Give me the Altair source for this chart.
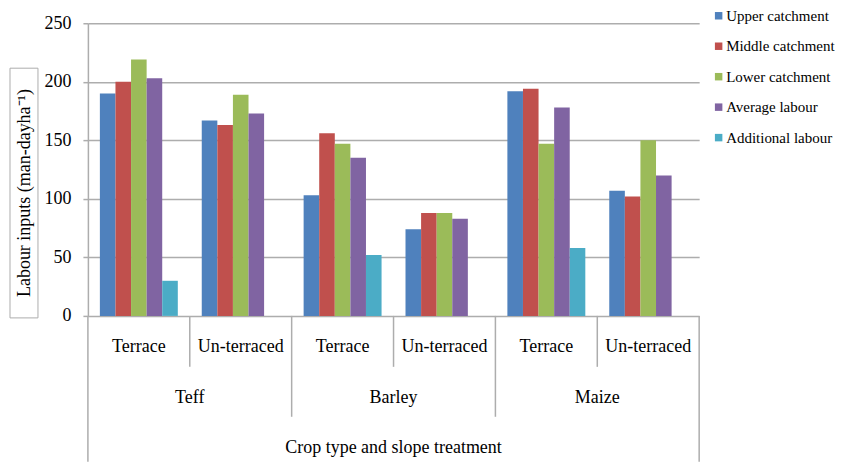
import altair as alt
import pandas as pd

crops = ["Teff", "Barley", "Maize"]
slopes = ["Terrace", "Un-terraced"]
series = ["Upper catchment", "Middle catchment", "Lower catchment",
          "Average labour", "Additional labour"]
# values per group: Teff-T, Teff-U, Barley-T, Barley-U, Maize-T, Maize-U
upper = [190, 167, 103, 74, 192, 107]
middle = [200, 163, 156, 88, 194, 102]
lower = [219, 189, 147, 88, 147, 150]
average = [203, 173, 135, 83, 178, 120]
additional = [30, None, 52, None, 58, None]
colors = ["#4F81BD", "#C0504D", "#9BBB59", "#8064A2", "#4BACC6"]
y_ticks = [0, 50, 100, 150, 200, 250]
y_title = "Labour inputs (man-dayha⁻¹)"
x_title = "Crop type and slope treatment"

FONT = "Liberation Serif"
GRID = "#ADADAD"
W, H = 612, 293

groups = [(c, s) for c in crops for s in slopes]
keys = [f"{c} | {s}" for c, s in groups]
rows = []
for name, vals in zip(series, [upper, middle, lower, average, additional]):
    for k, v in zip(keys, vals):
        if v is not None:
            rows.append({"key": k, "series": name, "value": v})
bars_df = pd.DataFrame(rows)

n = len(keys)
slope_df = pd.DataFrame({"pos": [i + 0.5 for i in range(n)],
                         "text": [s for _, s in groups]})
crop_df = pd.DataFrame({"pos": [len(slopes) * j + len(slopes) / 2 for j in range(len(crops))],
                        "text": crops})
title_df = pd.DataFrame({"pos": [n / 2], "text": [x_title]})
sep_slope = pd.DataFrame({"pos": [len(slopes) * j + 1 for j in range(len(crops))]})
sep_crop = pd.DataFrame({"pos": [len(slopes) * j for j in range(1, len(crops))]})
sep_outer = pd.DataFrame({"pos": [0, n]})
ytitle_df = pd.DataFrame({"t": [y_title]})

xq = alt.X("pos:Q", scale=alt.Scale(domain=[0, n], nice=False, zero=False), axis=None)

bars = alt.Chart(bars_df).mark_bar().encode(
    x=alt.X("key:N", sort=keys,
            scale=alt.Scale(domain=keys, paddingInner=0.235, paddingOuter=0.1175),
            axis=None),
    xOffset=alt.XOffset("series:N", sort=series,
                        scale=alt.Scale(domain=series, paddingInner=0, paddingOuter=0)),
    y=alt.Y("value:Q", scale=alt.Scale(domain=[0, 250], nice=False),
            axis=alt.Axis(values=y_ticks, title=None, grid=True, gridColor=GRID,
                          gridWidth=1.5, domainColor=GRID, domainWidth=1.5,
                          tickColor=GRID, tickWidth=1.5, tickSize=5, labelPadding=12,
                          labelFont=FONT, labelFontSize=18, labelColor="black")),
    color=alt.Color("series:N", sort=series,
                    scale=alt.Scale(domain=series, range=colors),
                    legend=alt.Legend(title=None, orient="none", legendX=624, legendY=-15,
                                      symbolType="square", symbolSize=56,
                                      symbolStrokeWidth=0, labelFont=FONT,
                                      labelFontSize=15, labelColor="black",
                                      rowPadding=14.5, labelOffset=0, padding=0)),
)

rule_slope = alt.Chart(sep_slope).mark_rule(color=GRID, strokeWidth=1.5).encode(
    x=xq, y=alt.value(H), y2=alt.value(H + 51))
rule_crop = alt.Chart(sep_crop).mark_rule(color=GRID, strokeWidth=1.5).encode(
    x=xq, y=alt.value(H), y2=alt.value(H + 101))
rule_outer = alt.Chart(sep_outer).mark_rule(color=GRID, strokeWidth=1.5).encode(
    x=xq, y=alt.value(H), y2=alt.value(H + 146))

slope_txt = alt.Chart(slope_df).mark_text(font=FONT, fontSize=18, color="black",
                                          baseline="alphabetic").encode(
    x=xq, y=alt.value(H + 36), text="text:N")
crop_txt = alt.Chart(crop_df).mark_text(font=FONT, fontSize=18, color="black",
                                        baseline="alphabetic").encode(
    x=xq, y=alt.value(H + 87), text="text:N")
xtitle_txt = alt.Chart(title_df).mark_text(font=FONT, fontSize=18, color="black",
                                           baseline="alphabetic").encode(
    x=xq, y=alt.value(H + 137), text="text:N")

ybox = alt.Chart(ytitle_df).mark_rect(fill="white", stroke=GRID, strokeWidth=1).encode(
    x=alt.value(-78), x2=alt.value(-50), y=alt.value(45), y2=alt.value(295))
ytxt = alt.Chart(ytitle_df).mark_text(font=FONT, fontSize=18, color="black", angle=270,
                                      align="center", baseline="middle").encode(
    x=alt.value(-63), y=alt.value(170), text="t:N")

chart = alt.layer(
    bars, rule_slope, rule_crop, rule_outer, slope_txt, crop_txt, xtitle_txt, ybox, ytxt
).resolve_scale(x="independent").properties(
    width=W, height=H,
    padding={"left": 1, "top": 0, "right": 0, "bottom": 0},
).configure(font=FONT).configure_view(stroke=None).configure_legend(
    labelFont=FONT, labelFontSize=15, labelColor="black"
)

chart.save("out.html", embed_options={"renderer": "svg", "actions": False})
